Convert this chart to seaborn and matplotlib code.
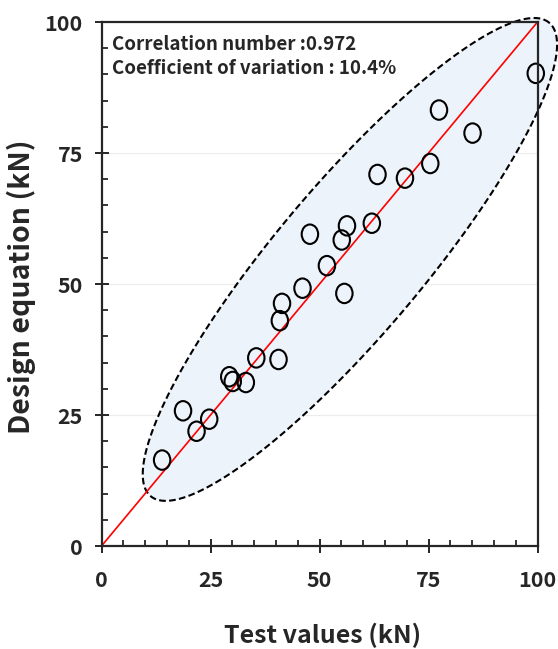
import numpy as np
import pandas as pd
import matplotlib
matplotlib.use("Agg")
import matplotlib.pyplot as plt
import seaborn as sns
from matplotlib.path import Path
from matplotlib.markers import MarkerStyle
from matplotlib.patches import Polygon
from matplotlib.ticker import MultipleLocator

# ---- data ----
test_values = [99.6, 77.4, 85.1, 75.4, 63.3, 69.6, 56.3, 47.8, 55.1, 62.0,
               51.7, 46.1, 55.7, 41.4, 40.9, 35.5, 40.6, 29.3, 30.1, 33.1,
               18.7, 24.7, 21.8, 13.9]
design_values = [90.2, 83.2, 78.8, 73.0, 70.9, 70.2, 61.1, 59.5, 58.4, 61.6,
                 53.5, 49.2, 48.2, 46.3, 43.0, 35.9, 35.6, 32.3, 31.4, 31.2,
                 25.8, 24.2, 21.9, 16.4]
line_x = [0, 100]
line_y = [0, 100]
tick_values = [0, 25, 50, 75, 100]
annot_lines = ["Correlation number :0.972", "Coefficient of variation : 10.4%"]
x_label = "Test values (kN)"
y_label = "Design equation (kN)"

df = pd.DataFrame({"test": test_values, "design": design_values})

sns.set_style("ticks")
plt.rcParams["font.family"] = ["Noto Sans CJK KR", "DejaVu Sans"]
plt.rcParams["font.weight"] = "bold"

fig = plt.figure(figsize=(5.58, 6.49), dpi=100)
ax = fig.add_axes([0.1819, 0.1587, 0.7814, 0.8074])

# faint horizontal grid
for yv in tick_values[1:-1]:
    ax.axhline(yv, color="#ececec", lw=0.8, zorder=0)

# dashed confidence ellipse (decoration)
cx, cy = 56.97, 54.69
major = np.array([45.71, 45.17])
minor = np.array([-12.96, 9.08])
t = np.linspace(0, 2 * np.pi, 400)
pts = np.c_[cx + major[0] * np.cos(t) + minor[0] * np.sin(t),
            cy + major[1] * np.cos(t) + minor[1] * np.sin(t)]
ell = Polygon(pts, closed=True, facecolor="#edf3fa", edgecolor="black",
              lw=1.5, ls=(0, (3.2, 1.6)), zorder=1, clip_on=False)
ax.add_patch(ell)

# 1:1 line
sns.lineplot(x=line_x, y=line_y, color="#ff0000", lw=1.2, ax=ax, zorder=3)

# circle markers (slightly tall)
circ = Path.unit_circle()
tall = Path(circ.vertices * np.array([0.845, 1.0]), circ.codes)
sns.scatterplot(data=df, x="test", y="design", marker=MarkerStyle(tall),
                s=14.0 ** 2, facecolor="none", edgecolor="black",
                linewidth=1.5, ax=ax, zorder=4, clip_on=False)

ax.set_xlim(0, 100)
ax.set_ylim(0, 100)
ax.set_xticks(tick_values)
ax.set_yticks(tick_values)
ax.xaxis.set_minor_locator(MultipleLocator(5))
ax.yaxis.set_minor_locator(MultipleLocator(5))
ax.tick_params(which="major", direction="inout", length=10, width=1.4,
               labelsize=15.5)
ax.tick_params(axis="x", which="major", pad=12.5)
ax.tick_params(axis="y", which="major", pad=8.5)
ax.tick_params(which="minor", direction="in", length=4, width=1.3)
for lab in ax.get_xticklabels() + ax.get_yticklabels():
    lab.set_fontweight("bold")
for sp in ax.spines.values():
    sp.set_linewidth(1.6)
    sp.set_zorder(5)

ax.set_xlabel(x_label, fontsize=18, fontweight="bold")
ax.set_ylabel(y_label, fontsize=20.5, fontweight="bold")
ax.xaxis.set_label_coords(0.508, -0.146)
ax.yaxis.set_label_coords(-0.150, 0.495)

ax.text(0.024, 0.958, annot_lines[0], transform=ax.transAxes, fontsize=13.5,
        fontweight="bold", va="center", ha="left")
ax.text(0.024, 0.912, annot_lines[1], transform=ax.transAxes, fontsize=13.5,
        fontweight="bold", va="center", ha="left")

fig.savefig("out.png", dpi=100)
